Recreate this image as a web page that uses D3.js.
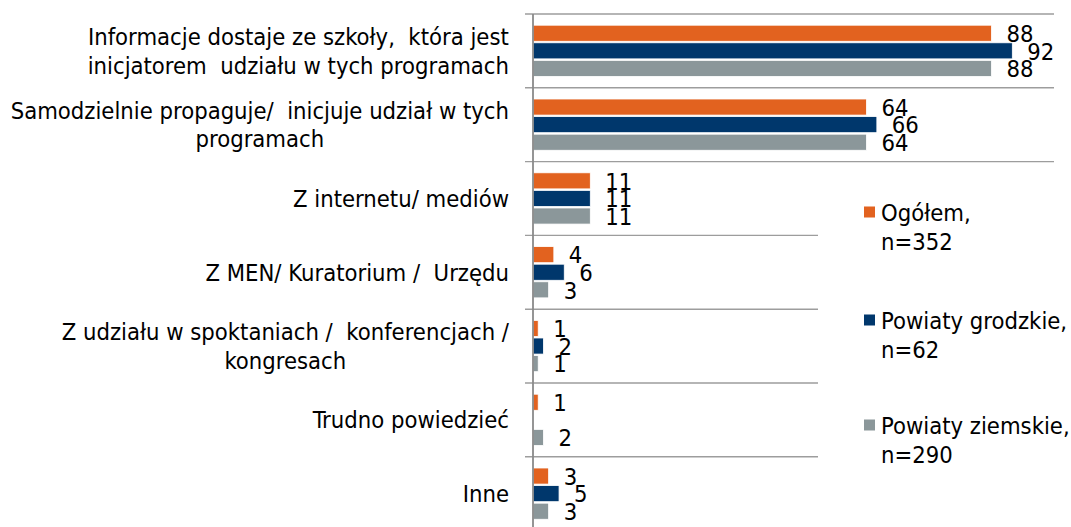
<!DOCTYPE html>
<html>
<head>
<meta charset="utf-8">
<script src="https://cdn.jsdelivr.net/npm/d3@7"></script>
<style>
  html, body { margin: 0; padding: 0; background: #fff; }
  svg { display: block; }
  text { font-family: "DejaVu Sans Condensed", "DejaVu Sans", sans-serif; font-stretch: condensed; fill: #000; white-space: pre; }
</style>
</head>
<body>
<svg id="chart" width="1071" height="527"></svg>
<script>
// Categories (answer options) and series values, in percent
const categories = [
  "Informacje dostaje ze szkoły,  która jest\ninicjatorem  udziału w tych programach",
  "Samodzielnie propaguje/  inicjuje udział w tych\nprogramach",
  "Z internetu/ mediów",
  "Z MEN/ Kuratorium /  Urzędu",
  "Z udziału w spoktaniach /  konferencjach /\nkongresach",
  "Trudno powiedzieć",
  "Inne"
];
const seriesNames = ["Ogółem", "Powiaty grodzkie", "Powiaty ziemskie"];
const seriesLegend = ["Ogółem,\nn=352", "Powiaty grodzkie,\nn=62", "Powiaty ziemskie,\nn=290"];
const ogolem   = [88, 64, 11, 4, 1, 1, 3];
const grodzkie = [92, 66, 11, 6, 2, null, 5];
const ziemskie = [88, 64, 11, 3, 1, 2, 3];
const seriesColors = ["#E2621F", "#00376C", "#8B979A"];

const seriesValues = [ogolem, grodzkie, ziemskie];
const rows = categories.map((c, i) => ({
  cat: c,
  vals: seriesNames.map((s, j) => ({ series: s, value: seriesValues[j][i], idx: j }))
}));

const svg = d3.select("#chart");
const plot = { left: 533, right: 1054, top: 14, band: 73.8 };
const fontSize = "23.6px";

const x = d3.scaleLinear().domain([0, 100]).range([plot.left, plot.right]);
const y = d3.scaleBand()
  .domain(d3.range(categories.length))
  .range([plot.top, plot.top + plot.band * categories.length])
  .paddingInner(0).paddingOuter(0);
const ySub = d3.scaleBand()
  .domain(d3.range(seriesNames.length))
  .range([y.bandwidth() * 0.145, y.bandwidth() * 0.86])
  .padding(0);

// Category separator lines (ticks extend left of the axis)
const gridG = svg.append("g");
const boundaries = d3.range(categories.length + 1).map(i => plot.top + i * y.step());
gridG.selectAll("line")
  .data(boundaries.filter(b => b < 527))
  .join("line")
  .attr("x1", plot.left - 8)
  .attr("x2", plot.right)
  .attr("y1", d => d)
  .attr("y2", d => d)
  .attr("stroke", "#9d9d9d")
  .attr("stroke-width", 1.4);

// Bars
const groups = svg.append("g").selectAll("g")
  .data(rows)
  .join("g")
  .attr("transform", (d, i) => `translate(0,${y(i)})`);

groups.selectAll("rect")
  .data(d => d.vals.filter(v => v.value != null))
  .join("rect")
  .attr("x", x(0))
  .attr("y", d => ySub(d.idx) + 0.5)
  .attr("width", d => x(d.value) - x(0))
  .attr("height", ySub.bandwidth() - 1.5)
  .attr("fill", d => seriesColors[d.idx])
  .attr("stroke", "#fff")
  .attr("stroke-width", 0.8);

// Value labels
groups.selectAll("text.val")
  .data(d => d.vals.filter(v => v.value != null))
  .join("text")
  .attr("class", "val")
  .attr("x", d => x(d.value) + 15)
  .attr("y", d => ySub(d.idx) + ySub.bandwidth() / 2)
  .attr("dy", "0.36em")
  .style("font-size", fontSize)
  .text(d => d.value);

// Vertical axis
svg.append("line")
  .attr("x1", plot.left).attr("x2", plot.left)
  .attr("y1", plot.top).attr("y2", 527)
  .attr("stroke", "#8a8a8a")
  .attr("stroke-width", 1.8);

// Category labels: lines centered on each other, block right-aligned to the axis
const labelRight = 509;
const lineH = 28.5;
const catG = svg.append("g");
rows.forEach((r, i) => {
  const lines = r.cat.split("\n");
  const t = catG.append("text").style("font-size", fontSize).attr("text-anchor", "middle");
  const spans = lines.map(ln => t.append("tspan").text(ln));
  const maxW = d3.max(spans, s => s.node().getComputedTextLength());
  const cy = y(i) + y.bandwidth() / 2;
  const first = cy - (lines.length - 1) * lineH / 2;
  spans.forEach((s, k) => {
    s.attr("x", labelRight - maxW / 2)
     .attr("y", first + k * lineH)
     .attr("dy", "0.36em");
  });
});

// Legend (white box sits over the plot area)
const legend = svg.append("g");
legend.append("rect")
  .attr("x", 818).attr("y", 172)
  .attr("width", 1071 - 818).attr("height", 300)
  .attr("fill", "#fff");
const legendTop = [212, 320, 425];
seriesLegend.forEach((lab, j) => {
  const g = legend.append("g").attr("transform", `translate(864,${legendTop[j]})`);
  g.append("rect")
    .attr("x", 0).attr("y", -5.5)
    .attr("width", 11).attr("height", 11)
    .attr("fill", seriesColors[j]);
  const t = g.append("text").style("font-size", fontSize);
  lab.split("\n").forEach((ln, k) => {
    t.append("tspan").attr("x", 17).attr("y", k * 30).attr("dy", "0.36em").text(ln);
  });
});
</script>
</body>
</html>
